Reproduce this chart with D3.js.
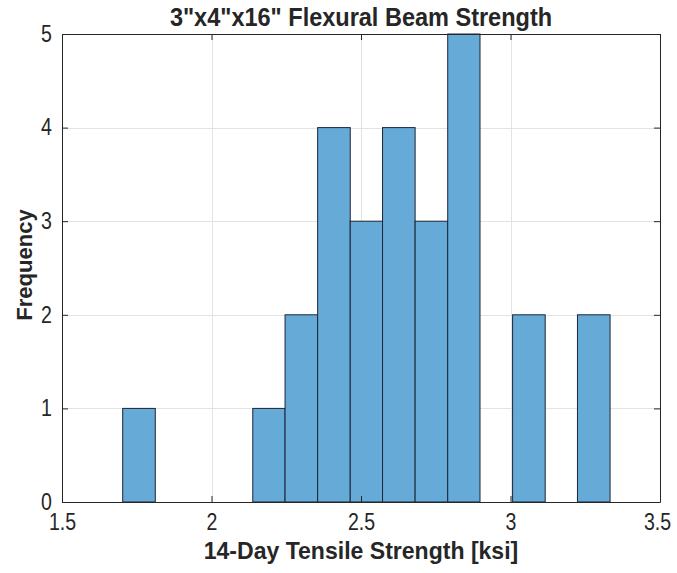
<!DOCTYPE html>
<html>
<head>
<meta charset="utf-8">
<script src="https://cdn.jsdelivr.net/npm/d3@7"></script>
<style>
  html, body { margin: 0; padding: 0; background: #fff; }
  svg { display: block; }
  text { font-family: "Liberation Sans", Arial, Helvetica, sans-serif; fill: #262626; }
</style>
</head>
<body>
<svg id="chart" width="677" height="573"></svg>
<script>
// ---- data ----
const binEdges = [1.703, 1.812, 1.920, 2.029, 2.138, 2.246, 2.355, 2.464, 2.572, 2.681, 2.790, 2.898, 3.007, 3.116, 3.224, 3.333];
const counts   = [1, 0, 0, 0, 1, 2, 4, 3, 4, 3, 5, 0, 2, 0, 2];
const xTicks = [1.5, 2, 2.5, 3, 3.5];
const yTicks = [0, 1, 2, 3, 4, 5];
const titleText = '3"x4"x16" Flexural Beam Strength';
const xLabel = '14-Day Tensile Strength [ksi]';
const yLabel = 'Frequency';

const bins = counts.map((c, i) => ({ x0: binEdges[i], x1: binEdges[i + 1], count: c }));

const margin = { left: 62, right: 17, top: 34, bottom: 71 };
const W = 677, H = 573;
const svg = d3.select('#chart');
const iw = W - margin.left - margin.right;
const ih = H - margin.top - margin.bottom;

const x = d3.scaleLinear().domain([1.5, 3.5]).range([0, iw]);
const y = d3.scaleLinear().domain([0, 5]).range([ih, 0]);

const g = svg.append('g').attr('transform', `translate(${margin.left},${margin.top})`);

// grid
g.append('g').selectAll('line').data(xTicks.slice(1, -1)).join('line')
  .attr('x1', d => Math.round(x(d)) + 0.5).attr('x2', d => Math.round(x(d)) + 0.5)
  .attr('y1', 0).attr('y2', ih).attr('stroke', '#e3e3e3').attr('stroke-width', 1);
g.append('g').selectAll('line').data(yTicks.slice(1, -1)).join('line')
  .attr('y1', d => Math.round(y(d)) + 0.5).attr('y2', d => Math.round(y(d)) + 0.5)
  .attr('x1', 0).attr('x2', iw).attr('stroke', '#e3e3e3').attr('stroke-width', 1);

// bars
g.append('g').selectAll('rect').data(bins.filter(b => b.count > 0)).join('rect')
  .attr('x', d => x(d.x0))
  .attr('width', d => x(d.x1) - x(d.x0))
  .attr('y', d => y(d.count))
  .attr('height', d => y(0) - y(d.count))
  .attr('fill', 'rgb(102,170,215)')
  .attr('stroke', '#1c2536')
  .attr('stroke-width', 1);

// axes
const condense = (sel, f) => sel.each(function () {
  const w = this.getComputedTextLength();
  d3.select(this).attr('textLength', w * f).attr('lengthAdjust', 'spacingAndGlyphs');
});
const axisStyle = sel => {
  sel.select('.domain').attr('stroke', '#262626');
  sel.selectAll('.tick line').attr('stroke', '#262626');
  sel.selectAll('.tick text').attr('fill', '#262626').attr('font-size', '23px')
    .call(condense, 0.85);
};
const xAxisG = g.append('g').attr('transform', `translate(0,${ih})`)
  .call(d3.axisBottom(x).tickValues(xTicks).tickFormat(d3.format('')).tickSizeInner(-6).tickSizeOuter(0).tickPadding(12))
  .call(axisStyle);
xAxisG.selectAll('.tick text').filter(d => d === xTicks[xTicks.length - 1]).attr('dx', -3);
g.append('g')
  .call(d3.axisLeft(y).tickValues(yTicks).tickFormat(d3.format('d')).tickSizeInner(-6).tickSizeOuter(0).tickPadding(10))
  .call(axisStyle);
g.append('g')
  .call(d3.axisTop(x).tickValues(xTicks).tickFormat('').tickSizeInner(-6).tickSizeOuter(0))
  .call(axisStyle);
g.append('g').attr('transform', `translate(${iw},0)`)
  .call(d3.axisRight(y).tickValues(yTicks).tickFormat('').tickSizeInner(-6).tickSizeOuter(0))
  .call(axisStyle);

// title & labels
svg.append('text').attr('x', margin.left + iw / 2).attr('y', 26)
  .attr('text-anchor', 'middle').attr('font-weight', 'bold').attr('font-size', '25px')
  .attr('fill', '#000').text(titleText).call(condense, 0.94);
svg.append('text').attr('x', margin.left + iw / 2).attr('y', 559)
  .attr('text-anchor', 'middle').attr('font-weight', 'bold').attr('font-size', '24px')
  .attr('fill', '#262626').text(xLabel).call(condense, 0.96);
svg.append('text').attr('transform', `translate(32,265) rotate(-90)`)
  .attr('text-anchor', 'middle').attr('font-weight', 'bold').attr('font-size', '22px')
  .attr('fill', '#262626').text(yLabel);
</script>
</body>
</html>
